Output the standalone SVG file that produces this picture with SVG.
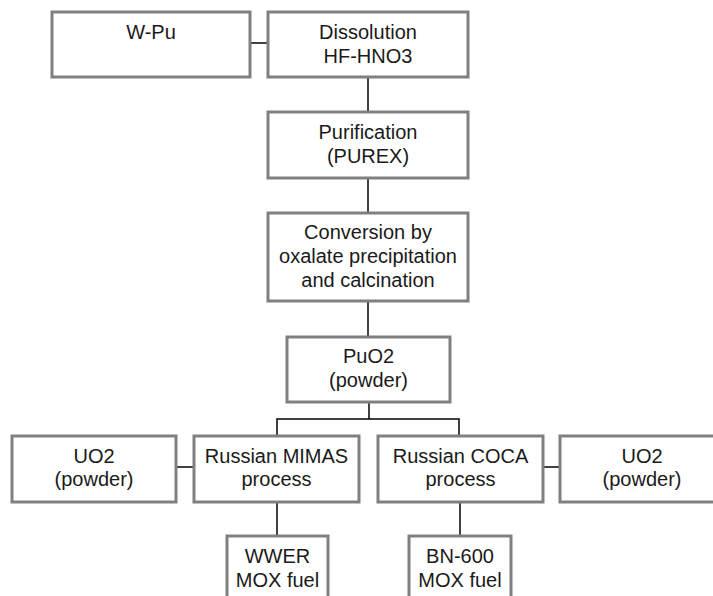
<svg xmlns="http://www.w3.org/2000/svg" width="713" height="596" viewBox="0 0 713 596">
<style>
.box{fill:#ffffff;stroke:#808080;stroke-width:3}
.t{font-family:"Liberation Sans",Arial,sans-serif;font-size:20px;fill:#1a1a1a;text-anchor:middle}
.c{stroke:#000000;stroke-width:1.5;fill:none}
</style>
<rect width="713" height="596" fill="#ffffff"/>
<g id="connectors">
<line class="c" x1="250" y1="43" x2="268" y2="43"/>
<line class="c" x1="368" y1="77" x2="368" y2="112"/>
<line class="c" x1="368" y1="178" x2="368" y2="213"/>
<line class="c" x1="368" y1="301" x2="368" y2="337"/>
<line class="c" x1="369" y1="402" x2="369" y2="419"/>
<polyline class="c" points="277,436 277,419 459,419 459,436"/>
<line class="c" x1="176" y1="467" x2="194" y2="467"/>
<line class="c" x1="543" y1="467" x2="560" y2="467"/>
<line class="c" x1="277" y1="502" x2="277" y2="536"/>
<line class="c" x1="460" y1="502" x2="460" y2="536"/>
</g>
<g id="wpu"><rect class="box" x="52" y="12" width="198" height="65"/><text class="t" x="151" y="39">W-Pu</text></g>
<g id="dissolution"><rect class="box" x="268" y="12" width="200" height="65"/><text class="t" x="368" y="39">Dissolution</text><text class="t" x="368" y="63">HF-HNO3</text></g>
<g id="purification"><rect class="box" x="268" y="112" width="200" height="66"/><text class="t" x="368" y="139">Purification</text><text class="t" x="368" y="163">(PUREX)</text></g>
<g id="conversion"><rect class="box" x="268" y="213" width="200" height="88"/><text class="t" x="368" y="239">Conversion by</text><text class="t" x="368" y="263">oxalate precipitation</text><text class="t" x="368" y="287">and calcination</text></g>
<g id="puo2"><rect class="box" x="287" y="337" width="163" height="65"/><text class="t" x="368.5" y="363">PuO2</text><text class="t" x="368.5" y="387">(powder)</text></g>
<g id="uo2left"><rect class="box" x="12" y="436" width="164" height="66"/><text class="t" x="94" y="463">UO2</text><text class="t" x="94" y="486">(powder)</text></g>
<g id="mimas"><rect class="box" x="194" y="436" width="165" height="66"/><text class="t" x="276.5" y="463">Russian MIMAS</text><text class="t" x="276.5" y="486">process</text></g>
<g id="coca"><rect class="box" x="378" y="436" width="165" height="66"/><text class="t" x="460.5" y="463">Russian COCA</text><text class="t" x="460.5" y="486">process</text></g>
<g id="uo2right"><rect class="box" x="560" y="436" width="170" height="66"/><text class="t" x="642" y="463">UO2</text><text class="t" x="642" y="486">(powder)</text></g>
<g id="wwer"><rect class="box" x="227" y="536" width="101" height="75"/><text class="t" x="277.5" y="563">WWER</text><text class="t" x="277.5" y="587">MOX fuel</text></g>
<g id="bn600"><rect class="box" x="409" y="536" width="102" height="75"/><text class="t" x="460" y="563">BN-600</text><text class="t" x="460" y="587">MOX fuel</text></g>
</svg>
